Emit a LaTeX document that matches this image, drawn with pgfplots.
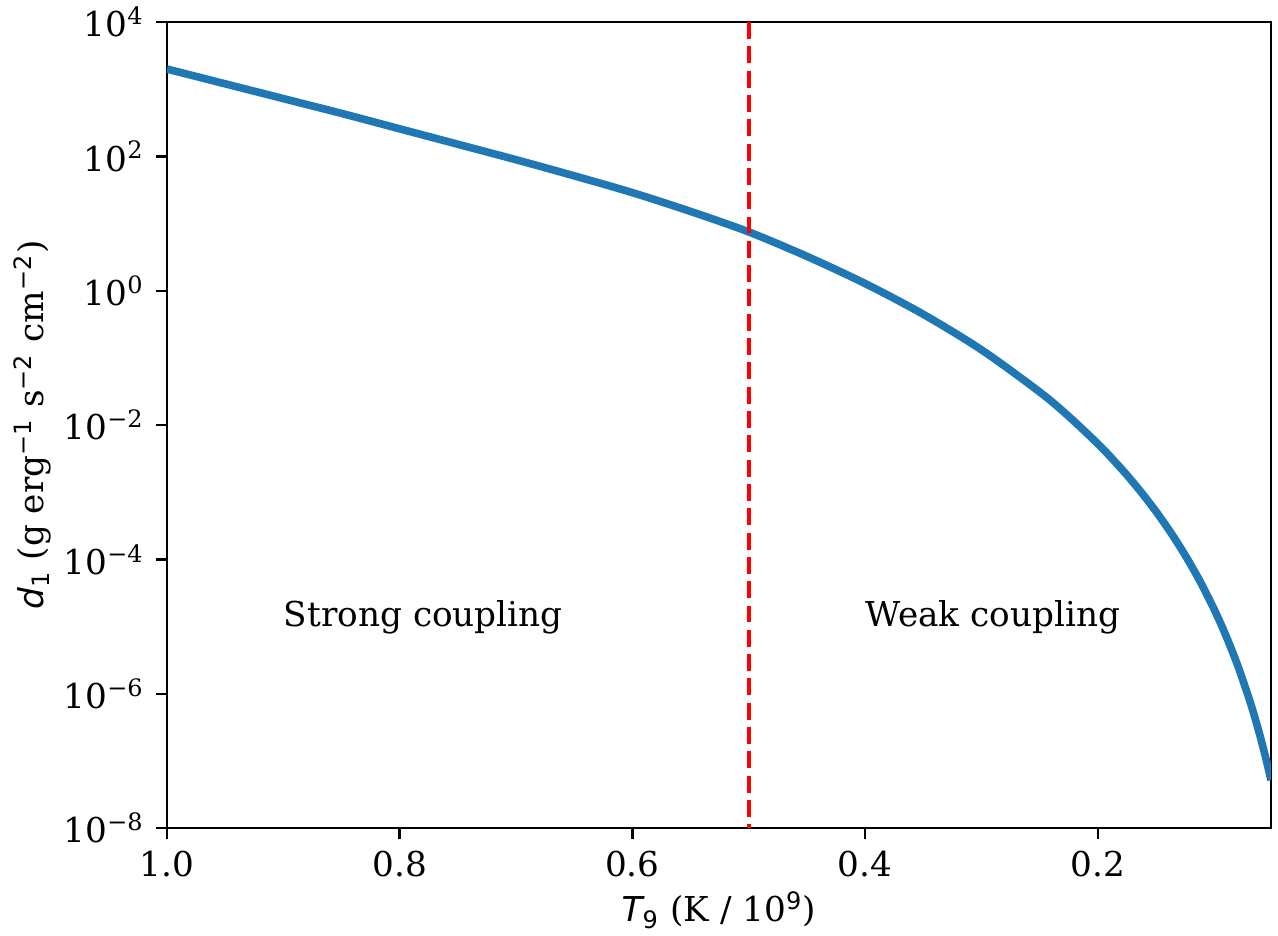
\documentclass[border=0pt]{standalone}
\usepackage{fontspec}
\setmainfont{DejaVu Serif}
\newfontfamily\dvs{DejaVu Sans}
\usepackage{pgfplots}
\pgfplotsset{compat=1.18}

\definecolor{mplblue}{HTML}{1F77B4}

% d1 against T9
\pgfplotstableread{
T       d
1.00    1995
0.95    1202
0.90    724.4
0.85    436.5
0.80    257.0
0.75    151.4
0.70    89.13
0.65    51.29
0.60    28.84
0.55    15.14
0.50    7.499
0.45    3.243
0.40    1.278
0.35    0.4453
0.30    0.1317
0.25    0.03107
0.225   0.01344
0.20    0.005247
0.1875  0.003127
0.175   0.001794
0.1625  9.856e-4
0.15    5.145e-4
0.1375  2.527e-4
0.125   1.153e-4
0.1125  4.812e-5
0.10    1.793e-5
0.09    7.337e-6
0.08    2.673e-6
0.07    8.365e-7
0.065   4.354e-7
0.06    2.136e-7
0.055   9.768e-8
0.0513  5.186e-8
}\dataone

\begin{document}
\fontsize{11.2}{13.4}\selectfont
\begin{tikzpicture}
  \begin{semilogyaxis}[
      scale only axis,
      width=361pt, height=263.6pt,
      x dir=reverse,
      xmin=0.0513, xmax=1.0,
      ymin=1e-8, ymax=1e4,
      xtick={1,0.8,0.6,0.4,0.2},
      xticklabels={1.0,0.8,0.6,0.4,0.2},
      ytick={1e-8,1e-6,1e-4,1e-2,1,1e2,1e4},
      yticklabels={10\textsuperscript{−8},10\textsuperscript{−6},10\textsuperscript{−4},10\textsuperscript{−2},10\textsuperscript{0},10\textsuperscript{2},10\textsuperscript{4}},
      yminorticks=false,
      xtick pos=left, ytick pos=left,
      tick align=outside,
      major tick length=3.5pt,
      tick style={line width=0.8pt, black},
      axis line style={line width=0.8pt},
      xlabel={{\dvs\itshape T}\textsubscript{\dvs 9} (K / 10\textsuperscript{\dvs 9})},
      ylabel={{\dvs\itshape d}\textsubscript{\dvs 1} (g erg\textsuperscript{\dvs −1} s\textsuperscript{\dvs −2} cm\textsuperscript{\dvs −2})},
      xlabel style={at={(axis description cs:0.5,-0.1017)}, anchor=center},
      ylabel style={at={(axis description cs:-0.1215,0.5)}, anchor=center},
    ]
    \addplot[mplblue, line width=2.5pt, smooth, tension=0.5] table[x=T, y=d] {\dataone};
    \addplot[red, line width=1.5pt, dash pattern=on 5.55pt off 2.4pt] coordinates {(0.5,1e4) (0.5,1e-8)};
    \node[anchor=base west, inner sep=0pt] at (axis cs:0.9,1e-5) {Strong coupling};
    \node[anchor=base west, inner sep=0pt] at (axis cs:0.4,1e-5) {Weak coupling};
    \coordinate (sw) at (axis description cs:0,0);
    \coordinate (ne) at (axis description cs:1,1);
  \end{semilogyaxis}
  \pgfresetboundingbox
  \path[use as bounding box] ([shift={(-54.6pt,-35pt)}]sw) rectangle ([shift={(2.3pt,7.2pt)}]ne);
\end{tikzpicture}
\end{document}
